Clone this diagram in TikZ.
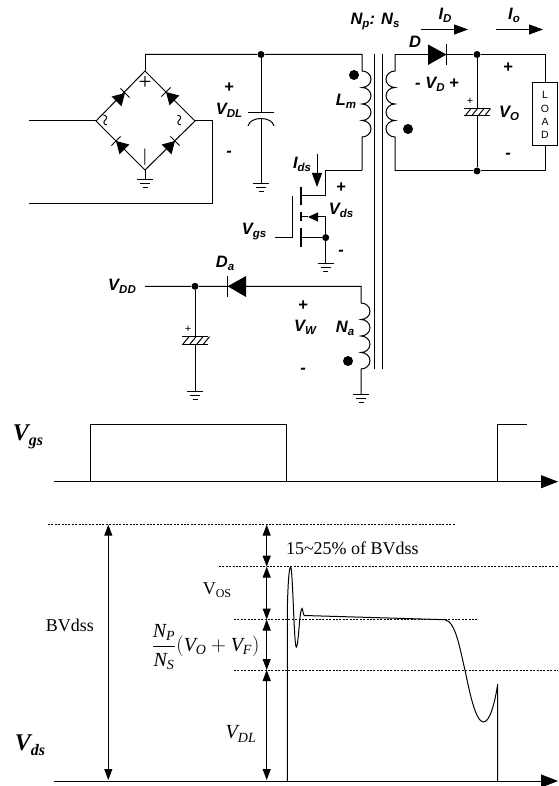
\documentclass[tikz,border=0pt]{standalone}
\usepackage{fontspec}
\setmainfont{Liberation Serif}
\newfontfamily\lblfont{Liberation Sans}
\usepackage{amsmath}
\usetikzlibrary{arrows.meta}
\DeclareMathSizes{20}{20}{14}{10}
\newcommand{\sbs}[1]{\raisebox{-3pt}{\fontsize{11.5}{11.5}\selectfont #1}}
\newcommand{\tsb}[1]{\raisebox{-3pt}{\fontsize{12}{12}\selectfont #1}}
\begin{document}
\begin{tikzpicture}[x=1pt,y=-1pt,line width=1pt,>={Triangle[length=14pt,width=10pt]}]
% Node styles: labels, dots, small marks
\tikzstyle{sans label}=[inner sep=0,font=\fontsize{16.5}{16.5}\lblfont\bfseries\itshape];
\tikzstyle{serif label}=[inner sep=0,font=\fontsize{18}{20}\selectfont];
\tikzstyle{math label}=[inner sep=0,font=\fontsize{20}{22}\selectfont];
\tikzstyle{big label}=[inner sep=0,font=\fontsize{24}{24}\selectfont\bfseries\itshape];
\tikzstyle{load label}=[inner sep=0,font=\fontsize{10.5}{10.5}\lblfont];
\tikzstyle{solid dot}=[circle,fill=black,inner sep=0,minimum size=7pt];
\tikzstyle{phase dot}=[circle,fill=black,inner sep=0,minimum size=10pt];
\tikzstyle{dash line}=[dash pattern=on 2pt off 1.4pt,line width=.9pt];
\tikzstyle{dim arrow}=[{Triangle[length=11pt,width=8pt]}-{Triangle[length=11pt,width=8pt]}];
\tikzstyle{axis arrow}=[-{Triangle[length=17pt,width=13pt]}];
\useasboundingbox (0,0) rectangle (558,786);
% The bridge
\coordinate(top)at(145,71);
\coordinate(lft)at(96,121);
\coordinate(rgt)at(195,121);
\coordinate(bot)at(145,170);
\coordinate(acl)at(29,121);
\coordinate(acb)at(29,204);
\coordinate(acr)at(212,204);
\coordinate(bus)at(145,54.5);
\coordinate(gb)at(145,179.5);
\draw(top)--(lft)--(bot)--(rgt)--cycle;
\draw(acl)--(lft);
\draw(rgt)-|(acr)--(acb);
\foreach \x/\y/\a in {125/93/45,166/92/135,116/141/135,175/141/45}{
\begin{scope}[shift={(\x,\y)},rotate=\a]
\fill(0,0)--(-12,-7)--(-12,7)--cycle;
\draw(0,-6.5)--(0,6.5);
\end{scope}
}
\node(bp)[inner sep=0,font=\fontsize{23}{23}\selectfont]at(145,83){+};
\node(bn)[inner sep=0,font=\fontsize{18}{18}\selectfont]at(145,157){|};
\node(bl)[inner sep=0,rotate=90,font=\fontsize{22}{22}\selectfont]at(108,121){\char`\~};
\node(br)[inner sep=0,rotate=90,font=\fontsize{22}{22}\selectfont]at(182,121){\char`\~};
% Bulk capacitor
\node(dl)[solid dot]at(261,54.5){};
\coordinate(cpa)at(261,113);
\coordinate(cpb)at(261,118.5);
\coordinate(gc)at(261,184);
\draw(bus)--(top);
\draw(dl)--(cpa);
\draw(248,113)--(274,113);
\draw(248,126)..controls(250,116)and(272,116)..(274,126);
\draw(cpb)--(gc);
\node(vdlp)[sans label]at(229,88){+};
\node(vdl)[sans label]at(229,110){V\sbs{DL}};
\node(vdln)[sans label]at(229,154){-};
% Transformer
\coordinate(pt)at(362,54.5);
\coordinate(pa)at(362,71);
\coordinate(pb)at(362,170.5);
\coordinate(sa)at(395,54.5);
\coordinate(sb)at(395,71);
\coordinate(sc)at(395,171);
\draw(bus)--(dl)--(pt)--(pa)\foreach \i in {1,...,4}{arc[start angle=90,end angle=-90,x radius=9pt,y radius=8.25pt]}--(pb);
\draw(sa)--(sb)\foreach \i in {1,...,4}{arc[start angle=90,end angle=270,x radius=9pt,y radius=8.25pt]}--(sc);
\draw(374.7,54)--(374.7,369);
\draw(382.7,54)--(382.7,369);
\node(pd)[phase dot]at(354,75){};
\node(sd)[phase dot]at(408,129){};
\node(npns)[sans label]at(375,22){N\sbs{p}: N\sbs{s}};
\node(lm)[sans label]at(346,101){L\sbs{m}};
% Output side
\node(oa)[solid dot]at(477,54.5){};
\node(ob)[solid dot]at(477,171){};
\coordinate(dk)at(446.5,54.5);
\coordinate(ld)at(545.7,54.5);
\coordinate(le)at(545.7,171);
\node(load)[draw,minimum width=25pt,minimum height=63pt,inner sep=0]at(544.5,114.5){};
\node[load label]at(545,94.5){L};
\node[load label]at(545,108.5){O};
\node[load label]at(545,121.5){A};
\node[load label]at(545,134.5){D};
\draw(sa)--(dk)--(oa)--(ld)--(load.north-|ld);
\draw(load.south-|ld)--(le)--(ob)--(sc);
\fill(428,44.5)--(428,65)--(446.5,54.5)--cycle;
\draw(446.7,44)--(446.7,65);
\coordinate(ocp)at(477,108.5);
\coordinate(ocn)at(477,116);
\draw(oa)--(ocp);
\draw(ocn)--(ob);
\draw(463.5,108.5)--(490,108.5);
\draw(463.5,116)--(490,116);
\foreach \x in {466,472.5,479,485.5}
\draw(\x-1,116)--(\x+5,108.5);
\node(ocplus)[inner sep=0,font=\fontsize{11}{11}\lblfont]at(470,101.5){+};
\node(d)[sans label]at(415,42){D};
\node(vd)[sans label]at(437,84){- V\sbs{D} +};
\node(id)[sans label]at(445,15){I\sbs{D}};
\node(io)[sans label]at(514,15){I\sbs{o}};
\node(idl)[inner sep=0]at(420,29.5){};
\node(idr)[inner sep=0]at(469,29.5){};
\node(iol)[inner sep=0]at(495,29.5){};
\node(ior)[inner sep=0]at(544,29.5){};
\draw[->](idl)--(idr);
\draw[->](iol)--(ior);
\node(vop)[sans label]at(508,68){+};
\node(vo)[sans label]at(509,113){V\sbs{O}};
\node(von)[sans label]at(508,156){-};
% The MOSFET
\coordinate(dr)at(325.7,170.5);
\coordinate(dc)at(325.7,196);
\coordinate(dg)at(302,196);
\coordinate(sg)at(302,237.6);
\node(sn)[solid dot]at(325.7,237.6){};
\coordinate(bd)at(325.7,217);
\coordinate(ba)at(308,217);
\coordinate(bg)at(302,217);
\coordinate(gs)at(325.7,263);
\draw(pb)-|(dc)--(dg);
\draw(sg)--(sn);
\draw(bd)--(gs);
\draw[-{Triangle[length=10pt,width=9pt]}](bd)--(ba);
\draw(ba)--(bg);
\draw[line width=1.8pt](300.8,186.7)--(300.8,205);
\draw[line width=1.8pt](300.8,212.5)--(300.8,221);
\draw[line width=1.8pt](300.8,228)--(300.8,246.5);
\draw(275,237.6)-|(292.3,196);
\node(ids)[sans label]at(302,164){I\sbs{ds}};
\draw[->](317,154)--(317,187);
\node(vdsp)[sans label]at(341,188){+};
\node(vds)[sans label]at(341,210){V\sbs{ds}};
\node(vdsn)[sans label]at(341,253){-};
\node(vgs)[sans label]at(254,232){V\sbs{gs}};
% Auxiliary winding
\node(vdd)[sans label]at(122,286){V\sbs{DD}};
\coordinate(vw)at(145,286.3);
\node(ad)[solid dot]at(195,286.3){};
\coordinate(ak)at(227.7,286.3);
\coordinate(na)at(361,286.3);
\coordinate(nb)at(361,303);
\coordinate(gn)at(361,394);
\draw(vw)--(ad)--(ak)--(na)--(nb)\foreach \i in {1,...,4}{arc[start angle=90,end angle=-90,x radius=9pt,y radius=8.25pt]}--(gn);
\fill(227.7,286.3)--(246,276)--(246,297)--cycle;
\draw(227.7,276)--(227.7,297);
\node(nd)[phase dot]at(348,361){};
\coordinate(acp)at(195,336.7);
\coordinate(acn)at(195,344);
\coordinate(ga)at(195,391.7);
\draw(ad)--(acp);
\draw(acn)--(ga);
\draw(182,336.7)--(208,336.7);
\draw(182,344)--(208,344);
\foreach \x in {184,191,198,204.5}
\draw(\x-1,344)--(\x+5,336.7);
\node(acplus)[inner sep=0,font=\fontsize{11}{11}\lblfont]at(188,329){+};
\node(da)[sans label]at(225,263){D\sbs{a}};
\node(vwp)[sans label]at(303,306){+};
\node(vwl)[sans label]at(305,327){V\sbs{W}};
\node(vwn)[sans label]at(303,371){-};
\node(nal)[sans label]at(345,328){N\sbs{a}};
% Grounds
\foreach \g in {gb,gc,gs,ga,gn}{
\draw(\g)++(-8,0)--++(16,0);
\draw(\g)++(-5,4)--++(10,0);
\draw(\g)++(-2.5,8)--++(5,0);
}
\draw(bot)--(gb);
% Gate waveform
\node(vgsw)[big label]at(28,437){V\raisebox{-5pt}{\fontsize{16}{16}\selectfont gs}};
\coordinate(ga0)at(54,481.7);
\coordinate(ga1)at(558,481.7);
\draw[axis arrow](ga0)--(ga1);
\draw(90.4,481.7)--(90.4,424.7)--(286.5,424.7)--(286.5,481.7);
\draw(497.5,481.7)--(497.5,424.7)--(526.7,424.7);
% Drain waveform
\node(vdsw)[big label]at(30,745){V\raisebox{-5pt}{\fontsize{16}{16}\selectfont ds}};
\coordinate(da0)at(54,781);
\coordinate(da1)at(558,781);
\draw[axis arrow](da0)--(da1);
\draw[dash line](48,524.7)--(455,524.7);
\draw[dash line](219,566.7)--(558,566.7);
\draw[dash line](234,619.7)--(478,619.7);
\draw[dash line](234,670)--(558,670);
\coordinate(bva)at(108.3,524.7);
\coordinate(bvb)at(108.3,780);
\draw[dim arrow](bva)--(bvb);
\coordinate(dma)at(266.7,524.7);
\coordinate(dmb)at(266.7,566.7);
\coordinate(dmc)at(266.7,619.5);
\coordinate(dmd)at(266.7,670);
\coordinate(dme)at(266.7,780);
\draw[dim arrow](dma)--(dmb);
\draw[dim arrow](dmb)--(dmc);
\draw[dim arrow](dmc)--(dmd);
\draw[dim arrow](dmd)--(dme);
\draw(287.3,781)--(287.3,612)..controls(287.8,585)and(289,567)..(290.7,567)
..controls(292.7,567)and(294,647)..(296.3,647)
..controls(298.5,647)and(299.5,608.5)..(302,608.5)
..controls(302.8,608.5)and(303,615.5)..(304.5,615.5)
--(445,619.7)..controls(456,622)and(460,650)..(465,670)
..controls(470,695)and(476,722)..(483.5,722)
..controls(490,722)and(495,702)..(497.7,684)--(497.7,781);
\node(bvl)[serif label]at(70,625.5){BVdss};
\node(pct)[serif label,anchor=west]at(285.5,548){15\char`\~25\% of BVdss};
\node(vos)[serif label]at(217,590){V\tsb{OS}};
\node(frm)[math label]at(205.5,647){$\dfrac{\mathit{N}_{\mathit{P}}}{\mathit{N}_{\mathit{S}}}(\mathit{V}_{\mathit{O}}+\mathit{V}_{\mathit{F}})$};
\node(vdlw)[math label]at(241,734){$\mathit{V}_{\mathit{DL}}$};
\end{tikzpicture}
\end{document}
